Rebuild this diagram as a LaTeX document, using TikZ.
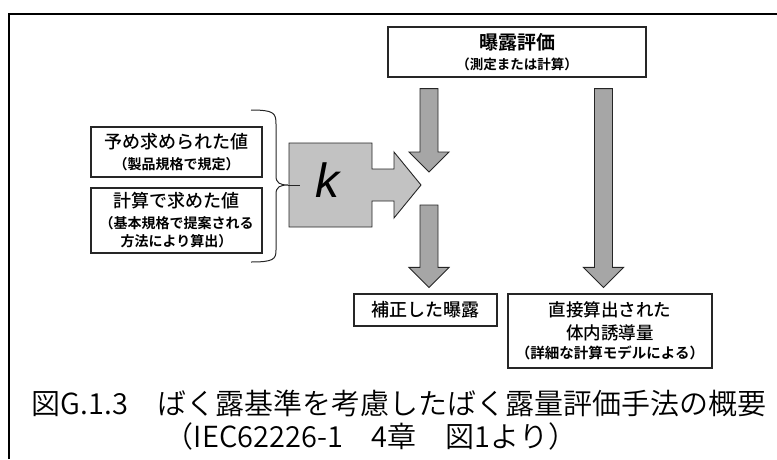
\documentclass[tikz,border=0pt]{standalone}
\usepackage{fontspec}
\setmainfont{Noto Sans CJK JP}
\newfontfamily\gothic{Noto Sans CJK JP Medium}
\newfontfamily\gothicb{Noto Sans CJK JP Bold}
\newfontfamily\capfont{Noto Sans CJK JP DemiLight}
\newfontfamily\ksans{Liberation Sans}
\usetikzlibrary{
    calc,
    positioning
}
\definecolor{arrgray}{HTML}{A6A6A6}
\definecolor{kgray}{HTML}{C2C2C2}
\definecolor{edge}{HTML}{262626}

\begin{document}
\begin{tikzpicture}[x=1pt, y=-1pt,
    box/.style={draw=edge, line width=1.2pt, fill=white, inner sep=0pt,
                align=center, font=\gothic\fontsize{18}{22}\selectfont},
    fat/.style={draw=edge, line width=0.9pt, fill=arrgray,
                to path={++(-9,0) -- ++(18,0) -- ($(\tikztotarget)+(9,-20)$)
                  -- ++(11,0) -- (\tikztotarget) -- ++(-20,-20) -- ++(11,0) -- cycle}},
    capt/.style={font=\capfont\fontsize{29}{34}\selectfont, inner sep=0pt}]
    \useasboundingbox (0,0) rectangle (777,459);
    \draw[line width=1.5pt] (9,459) -- (9,14) -- (777,14);

    \node[box, minimum width=258pt, minimum height=50pt] (expo) at (517,52)
        {{\gothicb\fontsize{19}{21}\selectfont 曝露評価}\\[-2pt]{\gothicb\fontsize{13.5}{16}\selectfont （測定または計算）}};
    \node[box, minimum width=171pt, minimum height=50pt] (pre) at (176.5,152)
        {予め求められた値\\[-1pt]{\gothicb\fontsize{14}{16}\selectfont （製品規格で規定）}};
    \node[box, minimum width=171pt, minimum height=65pt] (comp) at (176.5,220.5)
        {計算で求めた値\\[-1pt]{\gothicb\fontsize{14}{16}\selectfont （基本規格で提案される}\\[-4pt]{\gothicb\fontsize{14}{16}\selectfont 方法により算出）}};
    \node[box, minimum width=143pt, minimum height=32pt] (corr) at (425.5,310) {補正した曝露};
    \node[box, minimum width=204pt, minimum height=74pt, font=\gothic\fontsize{17.5}{22}\selectfont] (direct) at (610,331)
        {直接算出された\\[1pt]体内誘導量\\[-3pt]{\gothicb\fontsize{14.5}{16}\selectfont （詳細な計算モデルによる）}};

    \draw[draw=edge, line width=0.9pt, fill=kgray] (289,143) -- (372,143) -- (372,169) -- (394,169)
        -- (394,152) -- (421,185) -- (394,218) -- (394,201) -- (372,201) -- (372,227) -- (289,227) -- cycle;
    \node (k) at (327,180) {\ksans\itshape\fontsize{48}{48}\selectfont k};

    \coordinate (btip) at (288,185);
    \draw[line width=1pt, edge] (251,110) .. controls (274,110) and (276,113) .. (276,124) -- (276,176)
        .. controls (276,183) and (280,185) .. (btip) .. controls (280,185) and (276,187) .. (276,194)
        -- (276,250) .. controls (276,259) and (274,262) .. (251,262);
    \draw[line width=1pt, edge] (btip) -- (300,185);

    \coordinate (kin) at (429,172);
    \coordinate (kout) at (429,205);
    \coordinate (top1) at ($(expo.south)+(-88,11)$);
    \coordinate (top2) at ($(expo.south)+(86.5,11)$);
    \coordinate (end1) at ($(corr.north -| kout)+(0,-6)$);
    \coordinate (end2) at ($(direct.north -| top2)+(0,-6)$);
    \draw[fat] (top1) to (kin);
    \draw[fat] (kout) to (end1);
    \draw[fat] (top2) to (end2);

    \node[capt] (cap1) at (399,403) {図G.1.3　ばく露基準を考慮したばく露量評価手法の概要};
    \node[capt] (cap2) at (371,436) {（IEC62226-1　4章　図1より）};
\end{tikzpicture}
\end{document}
